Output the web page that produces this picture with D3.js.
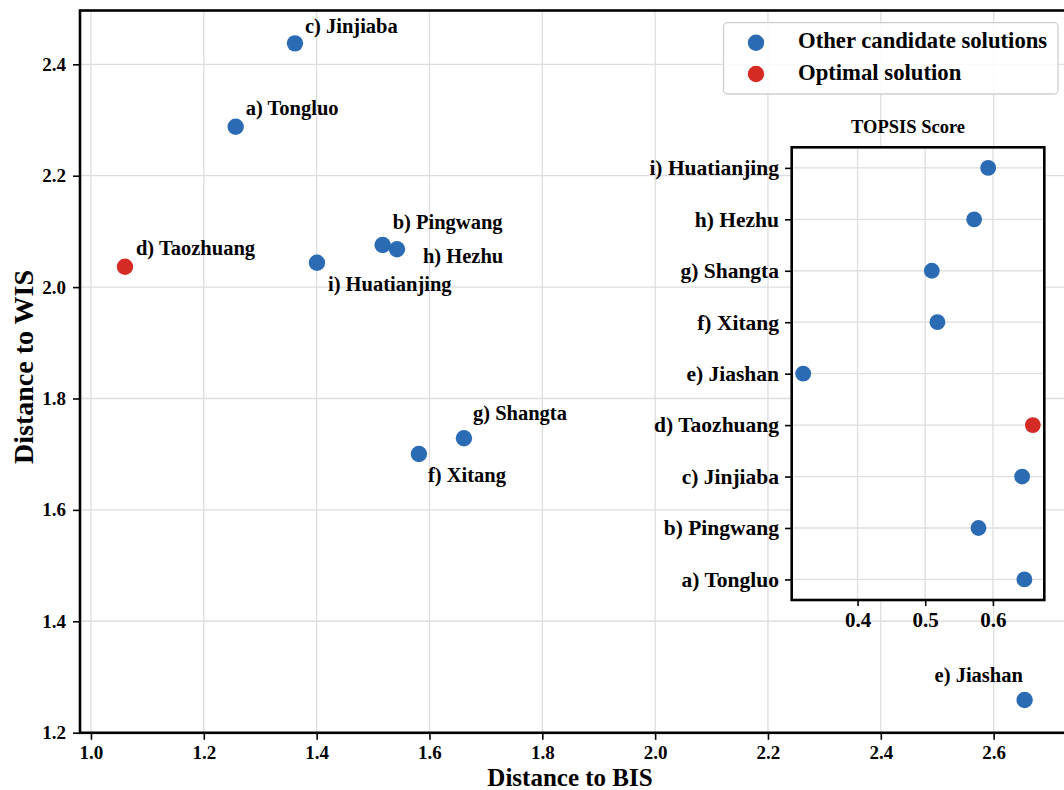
<!DOCTYPE html>
<html>
<head>
<meta charset="utf-8">
<script src="https://cdn.jsdelivr.net/npm/d3@7"></script>
<style>
  html, body { margin: 0; padding: 0; background: #fff; }
  svg { display: block; }
  text { font-family: "Liberation Serif", "Times New Roman", serif; font-weight: bold; fill: #000; }
</style>
</head>
<body>
<svg id="chart" width="1064" height="790"></svg>
<script>
// Candidate sites
const sites = ["a) Tongluo", "b) Pingwang", "c) Jinjiaba", "d) Taozhuang", "e) Jiashan",
               "f) Xitang", "g) Shangta", "h) Hezhu", "i) Huatianjing"];
// Euclidean distance of each site to the best / worst ideal solution
const distBIS = [1.2565, 1.5170, 1.3616, 1.0603, 2.6549, 1.5813, 1.6611, 1.5424, 1.4006];
const distWIS = [2.2880, 2.0756, 2.4377, 2.0366, 1.2587, 1.7004, 1.7285, 2.0679, 2.0438];
// Relative closeness (TOPSIS score)
const topsis  = [0.6466, 0.5787, 0.6432, 0.6590, 0.3196, 0.5180, 0.5097, 0.5723, 0.5930];
const optimalSite = "d) Taozhuang";

const mainXTicks  = [1.0, 1.2, 1.4, 1.6, 1.8, 2.0, 2.2, 2.4, 2.6];
const mainYTicks  = [1.2, 1.4, 1.6, 1.8, 2.0, 2.2, 2.4];
const insetXTicks = [0.4, 0.5, 0.6];
const legendItems = ["Other candidate solutions", "Optimal solution"];

// Label placement next to each point (pixels from the marker centre)
const labelOffsets = [[10, -12], [10, -16], [10, -10], [11, -12], [-90, -18],
                      [9, 28], [9, -18], [26, 14], [11, 28]];

const BLUE = "#2b6bb3", RED = "#d52a25", GRID = "#dedede";
const colorOf = name => name === optimalSite ? RED : BLUE;

const svg = d3.select("#chart");

// matplotlib-style 5% data margins
function padded(values, frac = 0.05) {
  const [lo, hi] = d3.extent(values);
  const p = (hi - lo) * frac;
  return [lo - p, hi + p];
}

// ---------- main scatter ----------
const M = { left: 80, right: 1069.6, top: 10.5, bottom: 732.8 };
const x = d3.scaleLinear().domain(padded(distBIS)).range([M.left, M.right]);
const y = d3.scaleLinear().domain(padded(distWIS)).range([M.bottom, M.top]);

const main = svg.append("g");
main.append("g").selectAll("line").data(mainXTicks).join("line")
  .attr("x1", d => x(d)).attr("x2", d => x(d)).attr("y1", M.top).attr("y2", M.bottom)
  .attr("stroke", GRID).attr("stroke-width", 1.3);
main.append("g").selectAll("line").data(mainYTicks).join("line")
  .attr("x1", M.left).attr("x2", M.right).attr("y1", d => y(d)).attr("y2", d => y(d))
  .attr("stroke", GRID).attr("stroke-width", 1.3);

const xAxis = main.append("g").attr("transform", `translate(0,${M.bottom})`)
  .call(d3.axisBottom(x).tickValues(mainXTicks).tickFormat(d3.format(".1f"))
        .tickSizeInner(7).tickSizeOuter(0).tickPadding(6));
const yAxis = main.append("g").attr("transform", `translate(${M.left},0)`)
  .call(d3.axisLeft(y).tickValues(mainYTicks).tickFormat(d3.format(".1f"))
        .tickSizeInner(7).tickSizeOuter(0).tickPadding(7));
[xAxis, yAxis].forEach(a => {
  a.select(".domain").remove();
  a.selectAll(".tick line").attr("stroke", "#000").attr("stroke-width", 1.6);
  a.selectAll(".tick text").style("font-size", "19px");
});

// spines
main.append("rect")
  .attr("x", M.left).attr("y", M.top)
  .attr("width", M.right - M.left).attr("height", M.bottom - M.top)
  .attr("fill", "none").attr("stroke", "#000").attr("stroke-width", 2.6);

const pts = sites.map((s, i) => ({ name: s, bx: distBIS[i], wy: distWIS[i], off: labelOffsets[i] }));
main.append("g").selectAll("circle").data(pts).join("circle")
  .attr("cx", d => x(d.bx)).attr("cy", d => y(d.wy)).attr("r", 8.2)
  .attr("fill", d => colorOf(d.name));
main.append("g").selectAll("text").data(pts).join("text")
  .attr("x", d => x(d.bx) + d.off[0]).attr("y", d => y(d.wy) + d.off[1])
  .style("font-size", "20.5px").text(d => d.name);

// axis titles
svg.append("text").attr("x", 570).attr("y", 786).attr("text-anchor", "middle")
  .style("font-size", "25px").text("Distance to BIS");
svg.append("text").attr("transform", "translate(33,367) rotate(-90)").attr("text-anchor", "middle")
  .style("font-size", "28px").text("Distance to WIS");

// ---------- legend ----------
const legend = svg.append("g");
legend.append("rect").attr("x", 723.5).attr("y", 22.7).attr("width", 334.5).attr("height", 71.3)
  .attr("rx", 4).attr("fill", "#fff").attr("fill-opacity", 0.85)
  .attr("stroke", "#cfcfcf").attr("stroke-width", 1.3);
const legRows = legend.selectAll("g").data(legendItems).join("g")
  .attr("transform", (d, i) => `translate(0,${42.7 + i * 31.3})`);
legRows.append("circle").attr("cx", 756).attr("cy", 0).attr("r", 8.2)
  .attr("fill", (d, i) => i === 0 ? BLUE : RED);
legRows.append("text").attr("x", 798).attr("y", 5.5).style("font-size", "22.7px").text(d => d);

// ---------- inset: TOPSIS score ----------
const I = { left: 791.7, right: 1044.3, top: 147.3, bottom: 600 };
const ix = d3.scaleLinear().domain(padded(topsis)).range([I.left, I.right]);
const iy = d3.scaleLinear().domain([-0.4, sites.length - 0.6]).range([I.bottom, I.top]);

const inset = svg.append("g");
inset.append("rect").attr("x", I.left).attr("y", I.top)
  .attr("width", I.right - I.left).attr("height", I.bottom - I.top).attr("fill", "#fff");
inset.append("g").selectAll("line").data(insetXTicks).join("line")
  .attr("x1", d => ix(d)).attr("x2", d => ix(d)).attr("y1", I.top).attr("y2", I.bottom)
  .attr("stroke", GRID).attr("stroke-width", 1.3);
inset.append("g").selectAll("line").data(d3.range(sites.length)).join("line")
  .attr("x1", I.left).attr("x2", I.right).attr("y1", d => iy(d)).attr("y2", d => iy(d))
  .attr("stroke", GRID).attr("stroke-width", 1.3);

const ixAxis = inset.append("g").attr("transform", `translate(0,${I.bottom})`)
  .call(d3.axisBottom(ix).tickValues(insetXTicks).tickFormat(d3.format(".1f"))
        .tickSizeInner(6).tickSizeOuter(0).tickPadding(6.5));
const iyAxis = inset.append("g").attr("transform", `translate(${I.left},0)`)
  .call(d3.axisLeft(iy).tickValues(d3.range(sites.length)).tickFormat(i => sites[i])
        .tickSizeInner(6.7).tickSizeOuter(0).tickPadding(6));
[ixAxis, iyAxis].forEach(a => {
  a.select(".domain").remove();
  a.selectAll(".tick line").attr("stroke", "#000").attr("stroke-width", 1.6);
});
ixAxis.selectAll(".tick text").style("font-size", "21px");
iyAxis.selectAll(".tick text").style("font-size", "21.5px");

inset.append("g").selectAll("circle").data(sites).join("circle")
  .attr("cx", (d, i) => ix(topsis[i])).attr("cy", (d, i) => iy(i)).attr("r", 7.9)
  .attr("fill", d => colorOf(d));

inset.append("rect").attr("x", I.left).attr("y", I.top)
  .attr("width", I.right - I.left).attr("height", I.bottom - I.top)
  .attr("fill", "none").attr("stroke", "#000").attr("stroke-width", 2.6);
inset.append("text").attr("x", 908).attr("y", 133).attr("text-anchor", "middle")
  .style("font-size", "18.5px").text("TOPSIS Score");
</script>
</body>
</html>
